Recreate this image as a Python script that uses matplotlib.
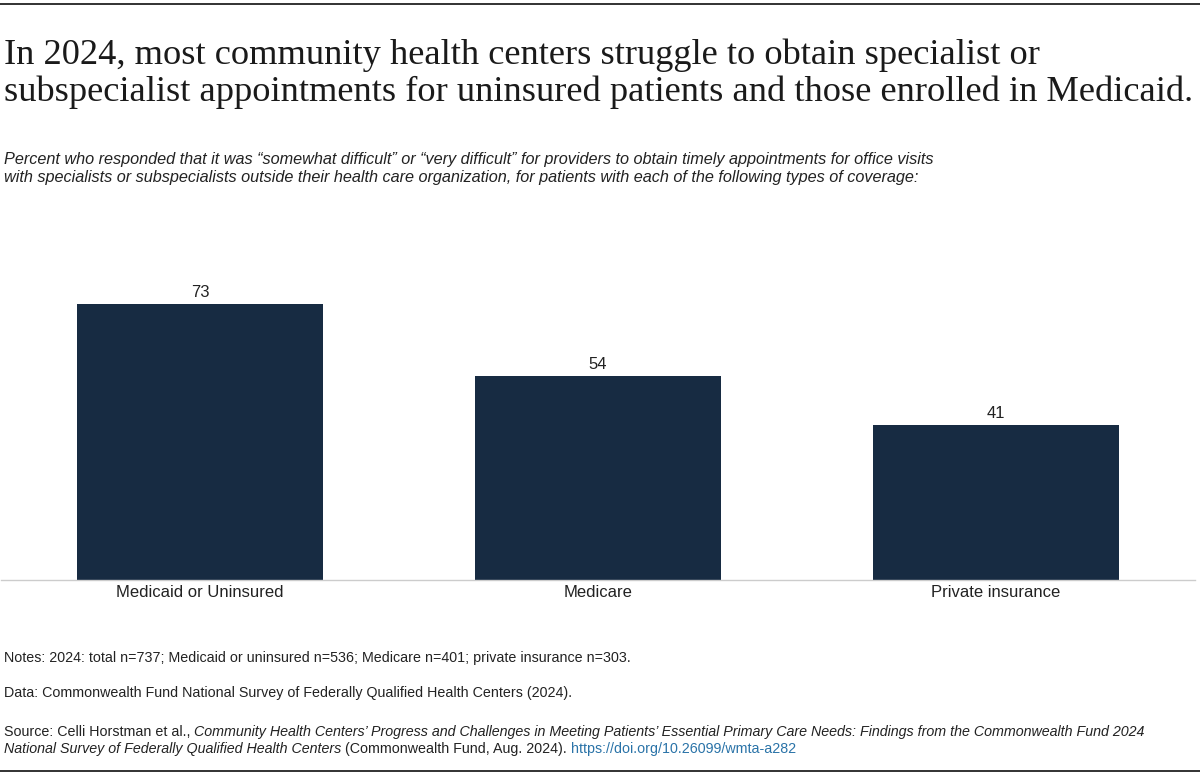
import matplotlib
matplotlib.use('Agg')
import matplotlib.pyplot as plt
from matplotlib.lines import Line2D

categories = ['Medicaid or Uninsured', 'Medicare', 'Private insurance']
values = [73, 54, 41]

title = ('In 2024, most community health centers struggle to obtain specialist or\n'
         'subspecialist appointments for uninsured patients and those enrolled in Medicaid.')
subtitle = ('Percent who responded that it was \u201csomewhat difficult\u201d or \u201cvery difficult\u201d '
            'for providers to obtain timely appointments for office visits\n'
            'with specialists or subspecialists outside their health care organization, '
            'for patients with each of the following types of coverage:')
notes = 'Notes: 2024: total n=737; Medicaid or uninsured n=536; Medicare n=401; private insurance n=303.'
data_note = 'Data: Commonwealth Fund National Survey of Federally Qualified Health Centers (2024).'

W, H = 1200, 775
BAR = '#172b42'
TXT = '#222222'
SANS = 'Liberation Sans'
FOOT = 10.25

fig = plt.figure(figsize=(W / 100, H / 100), dpi=100)

def fx(px):
    return px / W

def fy(py):
    return 1 - py / H

# rules at top and bottom
fig.add_artist(Line2D([0, 1], [fy(4), fy(4)], color='#222222', lw=1.3))
fig.add_artist(Line2D([0, 1], [fy(771), fy(771)], color='#222222', lw=1.3))

fig.text(fx(4), fy(101), title, family='Liberation Serif', fontsize=26.2,
         color='#1a1a1a', ha='left', va='baseline', linespacing=1.12)
fig.text(fx(4), fy(182), subtitle, family=SANS, style='italic', fontsize=11.7,
         color=TXT, ha='left', va='baseline', linespacing=1.25)

# bar chart
ax = fig.add_axes([fx(1), fy(580), fx(1194), (580 - 220) / H])
x = range(len(categories))
ax.bar(x, values, width=0.618, color=BAR)
for i, v in zip(x, values):
    ax.text(i, v + 1.0, str(v), ha='center', va='bottom', family=SANS,
            fontsize=12, color=TXT)
ax.set_xlim(-0.5, 2.5)
ax.set_ylim(0, 95.2)
ax.set_yticks([])
ax.set_xticks(list(x))
ax.set_xticklabels(categories, family=SANS, fontsize=12, color=TXT)
ax.tick_params(axis='x', length=0, pad=3.5)
for s in ['top', 'left', 'right']:
    ax.spines[s].set_visible(False)
ax.spines['bottom'].set_color('#cccccc')
ax.spines['bottom'].set_linewidth(1)
ax.patch.set_alpha(0)

fig.text(fx(4), fy(662), notes, family=SANS, fontsize=FOOT, color=TXT, va='baseline')
fig.text(fx(4), fy(697), data_note, family=SANS, fontsize=FOOT, color=TXT, va='baseline')

# source with mixed italic / link text, laid out piece by piece
fig.canvas.draw()
renderer = fig.canvas.get_renderer()

def run(pieces, xpx, ypx):
    cur = xpx
    for s, style, col in pieces:
        t = fig.text(fx(cur), fy(ypx), s, family=SANS, fontsize=FOOT, style=style,
                     color=col, va='baseline', ha='left')
        bb = t.get_window_extent(renderer=renderer)
        cur += bb.width

run([('Source: Celli Horstman et al., ', 'normal', TXT),
     ('Community Health Centers\u2019 Progress and Challenges in Meeting Patients\u2019 '
      'Essential Primary Care Needs: Findings from the Commonwealth Fund 2024', 'italic', TXT)],
    4, 736)
run([('National Survey of Federally Qualified Health Centers', 'italic', TXT),
     (' (Commonwealth Fund, Aug. 2024). ', 'normal', TXT),
     ('https://doi.org/10.26099/wmta-a282', 'normal', '#2a73a8')],
    4, 753)

fig.savefig('out.png', dpi=100)
